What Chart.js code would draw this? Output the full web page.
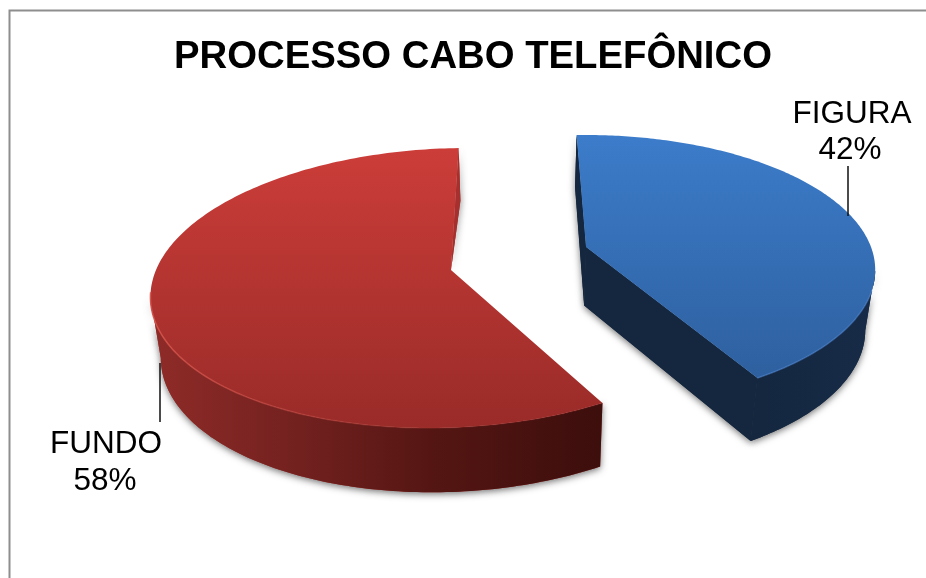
<!DOCTYPE html>
<html><head><meta charset="utf-8">
<style>html,body{margin:0;padding:0;background:#fff}canvas{display:block}</style>
<script src="https://cdn.jsdelivr.net/npm/chart.js@4"></script>
</head><body><canvas id="c" width="926" height="578"></canvas>
<script>
const categories = ['FIGURA', 'FUNDO'];
const shares = [42, 58];
const chartTitle = 'PROCESSO CABO TELEFÔNICO';

const FONT = '"Liberation Sans", Arial, sans-serif';
const VIEW = [
  {ax:586,ay:247,A:285,B:130.7,k:.1667,s:-1,
   top:[[135,'#3c7cca'],[378,'#2e609f']],
   wall:[[580,'#14273f'],[760,'#14273f'],[875,'#172b48']], face:'#14273f', rimA:'rgba(70,125,200,.25)', rimB:'rgba(70,125,200,.6)',
   startFace:'quad', endFace:'quad'},
  {ax:451,ay:270,A:295,B:137.7,k:.1285,s:19,
   top:[[148,'#cc3d39'],[428,'#992b28']],
   wall:[[152,'#8f2b28'],[300,'#72211f'],[430,'#551613'],[603,'#3c0e0c']], face:'#a5302d', rimA:'rgba(214,84,76,.9)', rimB:'rgba(160,50,46,.2)',
   startFace:null, endFace:'tri'}
];
const VPX = 520;
function project(p,th){
  const u=Math.sin(th), v=Math.cos(th), w=1+p.k*v;
  return [p.ax+(p.A*u+p.s*v)/w, p.ay-p.B*v/w];
}
function drop(pt){
  const y=pt[1];
  const d = y<270 ? 60-(270-y)*.06 : 60+(y-270)*.027;
  return [pt[0]+(VPX-pt[0])*.028, y+d];
}
function addPoly(ctx,pts){pts.forEach((q,i)=>i?ctx.lineTo(q[0],q[1]):ctx.moveTo(q[0],q[1]));ctx.closePath();}
function poly(ctx,pts){ctx.beginPath();addPoly(ctx,pts);}
function grad(ctx,stops,horizontal){
  const a=stops[0][0], b=stops[stops.length-1][0];
  const g=horizontal?ctx.createLinearGradient(a,0,b,0):ctx.createLinearGradient(0,a,0,b);
  stops.forEach(s=>g.addColorStop((s[0]-a)/(b-a),s[1]));
  return g;
}
const pie3d = {
  id:'pie3d',
  beforeDraw(chart){
    const c=chart.ctx;
    c.save();c.strokeStyle='#8e8e8e';c.lineWidth=2;
    c.beginPath();c.moveTo(9.5,578);c.lineTo(9.5,10.5);c.lineTo(926,10.5);c.stroke();c.restore();
  },
  beforeDatasetDraw(chart,args){
    const c=chart.ctx, arcs=chart.getDatasetMeta(args.index).data;
    arcs.forEach((arc,i)=>{
      const p=VIEW[i], a0=arc.startAngle+Math.PI/2, a1=arc.endAngle+Math.PI/2, n=200;
      const rimPts=[];
      for(let j=0;j<=n;j++) rimPts.push(project(p,a0+(a1-a0)*j/n));
      const apex=[p.ax,p.ay], rimLow=rimPts.map(drop), apexLow=drop(apex);
      const makeFace=(kind,k)=>kind==='tri'?[rimPts[k],apex,rimLow[k]]:kind==='quad'?[rimPts[k],apex,apexLow,rimLow[k]]:null;
      const faces=[makeFace(p.startFace,0),makeFace(p.endFace,n)].filter(Boolean);
      // swept wall: only the near-side quads, which all wind the same way
      const wallPath=()=>{
        c.beginPath();
        for(let j=0;j<n;j++) if(rimPts[j+1][0]<rimPts[j][0]) addPoly(c,[rimPts[j],rimPts[j+1],rimLow[j+1],rimLow[j]]);
      };
      // soft shadow of the solid
      c.save();
      c.shadowColor='rgba(0,0,0,.55)';c.shadowBlur=7;c.shadowOffsetY=2;
      c.fillStyle=p.face;
      wallPath();c.fill('nonzero');
      faces.forEach(f=>{poly(c,f);c.fill();});
      c.restore();
      // wall, then cut faces
      c.fillStyle=grad(c,p.wall,true);
      wallPath();c.fill('nonzero');
      c.fillStyle=p.face;
      faces.forEach(f=>{poly(c,f);c.fill();});
      // top surface
      c.fillStyle=grad(c,p.top,false);
      poly(c,[apex,...rimPts]);c.fill();
      // bevel on the near rim
      c.save();
      const g=c.createLinearGradient(150,0,875,0);
      g.addColorStop(0,p.rimA);g.addColorStop(.45,p.rimB);g.addColorStop(1,p.rimB);
      c.strokeStyle=g;c.lineWidth=1.5;
      c.beginPath();let on=false;
      rimPts.forEach(q=>{ if(q[1]>290){on?c.lineTo(q[0],q[1]):c.moveTo(q[0],q[1]);on=true;} else on=false; });
      c.stroke();c.restore();
    });
    return false;
  },
  afterDraw(chart){
    const c=chart.ctx;
    c.save();
    c.strokeStyle='#111';c.lineWidth=1.5;
    c.beginPath();c.moveTo(848,166);c.lineTo(848,216);c.moveTo(160,363);c.lineTo(160,422);c.stroke();
    c.fillStyle='#000';c.font='31.5px '+FONT;c.textAlign='center';c.textBaseline='alphabetic';
    c.fillText(categories[0],852,123);c.fillText(shares[0]+'%',850,159);
    c.fillText(categories[1],106,453);c.fillText(shares[1]+'%',105,490);
    c.restore();
  }
};
new Chart(document.getElementById('c'),{
  type:'pie',
  data:{labels:categories,datasets:[{data:shares,backgroundColor:['#3a74bd','#b5322f'],borderWidth:0}]},
  plugins:[pie3d],
  options:{
    responsive:false,animation:false,rotation:-2,
    layout:{padding:{left:20,top:0,right:0,bottom:0}},
    plugins:{
      legend:{display:false},tooltip:{enabled:false},
      title:{display:true,text:chartTitle,color:'#000',font:{family:FONT,size:38.3,weight:'bold'},padding:{top:34,bottom:10}}
    }
  }
});
</script></body></html>
